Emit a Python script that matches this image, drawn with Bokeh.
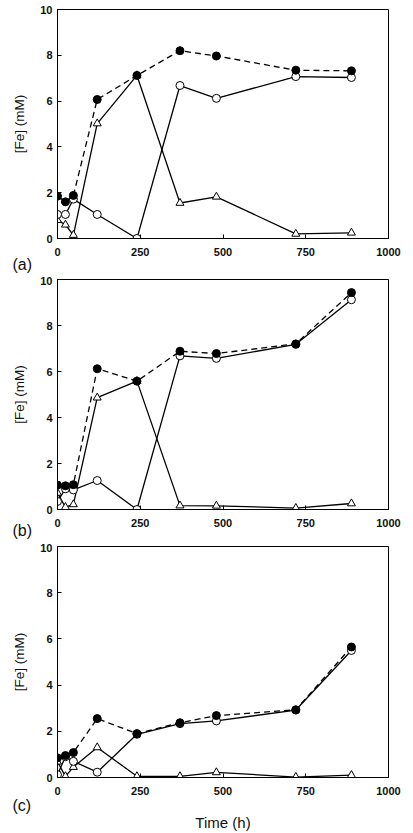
from bokeh.plotting import figure
from bokeh.layouts import column
from bokeh.models import Range1d, FixedTicker, Title
from bokeh.embed import file_html
from bokeh.resources import INLINE

time_h = [0, 24, 48, 120, 240, 370, 480, 720, 888]

a_total = [1.85, 1.6, 1.88, 6.07, 7.12, 8.2, 7.97, 7.35, 7.32]
a_open = [1.05, 1.05, 1.72, 1.05, 0.0, 6.68, 6.12, 7.07, 7.03]
a_tri = [0.8, 0.6, 0.15, 5.02, 7.12, 1.55, 1.82, 0.2, 0.25]

b_total = [1.06, 1.03, 1.08, 6.12, 5.58, 6.88, 6.78, 7.2, 9.43]
b_open = [0.35, 0.9, 0.85, 1.26, 0.0, 6.68, 6.57, 7.18, 9.12]
b_tri = [0.72, 0.1, 0.22, 4.86, 5.58, 0.17, 0.16, 0.06, 0.26]

c_total = [0.85, 0.95, 1.08, 2.55, 1.9, 2.37, 2.68, 2.93, 5.65]
c_open = [0.12, 0.9, 0.7, 0.23, 1.87, 2.33, 2.45, 2.92, 5.5]
c_tri = [0.68, 0.05, 0.45, 1.3, 0.05, 0.05, 0.22, 0.02, 0.1]

x_ticks = [0, 250, 500, 750, 1000]
y_ticks = [0, 2, 4, 6, 8, 10]
panel_labels = ["(a)", "(b)", "(c)"]
x_title = "Time (h)"
y_title = "[Fe] (mM)"

FONT = "Liberation Sans"
INK = "#111111"


def make_panel(total, opn, tri, tag, height, top, bottom, tag_standoff, xlabel=None):
    p = figure(width=413, height=height, output_backend="svg", toolbar_location=None,
               x_range=Range1d(0, 1000), y_range=Range1d(0, 10),
               min_border_left=57, min_border_right=25,
               min_border_top=top, min_border_bottom=bottom)
    p.grid.visible = False
    p.outline_line_color = "black"
    p.outline_line_width = 1
    p.background_fill_color = "white"
    p.border_fill_color = "white"
    for ax in (p.xaxis[0], p.yaxis[0]):
        ax.major_tick_in = 4
        ax.major_tick_out = 0
        ax.minor_tick_line_color = None
        ax.axis_line_color = "black"
        ax.major_label_text_font = FONT
        ax.major_label_text_font_size = "11px"
        ax.major_label_text_font_style = "bold"
        ax.major_label_text_color = INK
    p.xaxis.major_label_standoff = 9
    p.yaxis.major_label_standoff = 5
    p.xaxis.ticker = FixedTicker(ticks=x_ticks)
    p.yaxis.ticker = FixedTicker(ticks=y_ticks)
    p.yaxis.axis_label = y_title
    p.yaxis.axis_label_text_font = FONT
    p.yaxis.axis_label_text_font_style = "normal"
    p.yaxis.axis_label_text_font_size = "13.5px"
    p.yaxis.axis_label_text_color = INK
    p.yaxis.axis_label_standoff = 10

    p.line(time_h, total, line_color="black", line_width=1.3, line_dash="6 4")
    p.line(time_h, opn, line_color="black", line_width=1.3)
    p.line(time_h, tri, line_color="black", line_width=1.3)
    p.scatter(time_h, tri, marker="triangle", size=8, fill_color="white", line_color="black", line_width=1)
    p.scatter(time_h, opn, marker="circle", size=8, fill_color="white", line_color="black", line_width=1)
    p.scatter(time_h, total, marker="circle", size=8, fill_color="black", line_color="black")

    p.add_layout(Title(text=tag, align="left", offset=-45, standoff=tag_standoff,
                       text_font=FONT, text_font_size="16px", text_font_style="normal",
                       text_color=INK), "below")
    if xlabel:
        p.add_layout(Title(text=xlabel, align="center", standoff=2,
                           text_font=FONT, text_font_size="15px", text_font_style="normal",
                           text_color=INK), "below")
    return p


pa = make_panel(a_total, a_open, a_tri, panel_labels[0], 276, 9, 38, -9)
pb = make_panel(b_total, b_open, b_tri, panel_labels[1], 267, 3, 34, -19)
pc = make_panel(c_total, c_open, c_tri, panel_labels[2], 288, 3, 54, -6, xlabel=x_title)

layout = column(pa, pb, pc, spacing=0)
open("out.html", "w").write(file_html(layout, INLINE))
